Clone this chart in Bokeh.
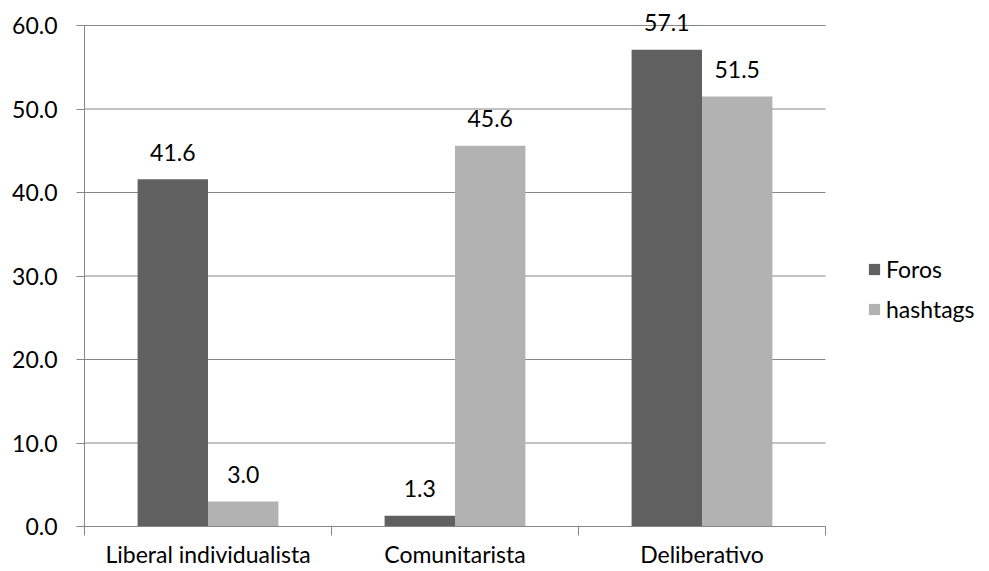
from bokeh.plotting import figure
from bokeh.models import Range1d, FixedTicker, ColumnDataSource, Legend, LegendItem
from bokeh.core.properties import value
from bokeh.embed import file_html
from bokeh.resources import INLINE

categories = ["Liberal individualista", "Comunitarista", "Deliberativo"]
foros = [41.6, 1.3, 57.1]
hashtags = [3.0, 45.6, 51.5]
series_names = ["Foros", "hashtags"]
y_ticks = [0, 10, 20, 30, 40, 50, 60]

FONT = "Lato"
FS = "23px"
GRID = "#868686"
C_DARK = "#606060"
C_LIGHT = "#b2b2b2"

W, H = 985, 571
LEFT, BOTTOM = 84, 45
PLOT_RIGHT = 825   # pixel where the category area ends
PLOT_TOP = 25      # pixel of the top tick
n = len(categories)
ytop = y_ticks[-1]
xmax = n * (W - LEFT) / (PLOT_RIGHT - LEFT)
ymax = ytop * (H - BOTTOM) / (H - BOTTOM - PLOT_TOP)

p = figure(width=W, height=H, output_backend="svg", toolbar_location=None,
           x_range=Range1d(0, xmax), y_range=Range1d(0, ymax),
           min_border_left=LEFT, min_border_right=0, min_border_top=0, min_border_bottom=BOTTOM)
p.outline_line_color = None
p.background_fill_color = "white"

# horizontal gridlines limited to the category area
p.segment(x0=[0] * (len(y_ticks) - 1), x1=[n] * (len(y_ticks) - 1),
          y0=y_ticks[1:], y1=y_ticks[1:], line_color=GRID, line_width=1)

w = 0.285
idx = list(range(n))
src = ColumnDataSource(dict(
    xf=[i + 0.5 - w / 2 for i in idx], xh=[i + 0.5 + w / 2 for i in idx],
    foros=foros, hashtags=hashtags,
    lf=[f"{v:.1f}" for v in foros], lh=[f"{v:.1f}" for v in hashtags]))

r1 = p.vbar(x="xf", top="foros", width=w, source=src, fill_color=C_DARK, line_color=None)
r2 = p.vbar(x="xh", top="hashtags", width=w, source=src, fill_color=C_LIGHT, line_color=None)

for xc, yc, lc in (("xf", "foros", "lf"), ("xh", "hashtags", "lh")):
    p.text(x=xc, y=yc, text=lc, source=src, text_align="center", text_baseline="alphabetic",
           y_offset=-27, text_font=value(FONT), text_font_size=FS, text_color="black")

# y axis
p.yaxis.bounds = (0, ytop)
p.yaxis.ticker = FixedTicker(ticks=y_ticks)
p.yaxis.major_label_overrides = {t: f"{t:.1f}" for t in y_ticks}
p.yaxis.axis_line_color = GRID
p.yaxis.major_tick_line_color = GRID
p.yaxis.major_tick_out = 8
p.yaxis.major_tick_in = 0
p.yaxis.minor_tick_line_color = None
p.yaxis.major_label_standoff = 19
p.yaxis.major_label_text_font = FONT
p.yaxis.major_label_text_font_size = FS
p.yaxis.major_label_text_color = "black"

# x axis
p.xaxis.bounds = (0, n)
p.xaxis.ticker = FixedTicker(ticks=[i + 0.5 for i in idx], minor_ticks=list(range(n + 1)))
p.xaxis.major_label_overrides = {i + 0.5: c for i, c in zip(idx, categories)}
p.xaxis.axis_line_color = GRID
p.xaxis.major_tick_line_color = None
p.xaxis.major_tick_out = 0
p.xaxis.major_tick_in = 0
p.xaxis.minor_tick_line_color = GRID
p.xaxis.minor_tick_out = 9
p.xaxis.minor_tick_in = 0
p.xaxis.major_label_standoff = 4
p.xaxis.major_label_text_font = FONT
p.xaxis.major_label_text_font_size = FS
p.xaxis.major_label_text_color = "black"

p.xgrid.grid_line_color = None
p.ygrid.grid_line_color = None

legend = Legend(items=[LegendItem(label=series_names[0], renderers=[r1]),
                       LegendItem(label=series_names[1], renderers=[r2])],
                location=(783, 203), orientation="vertical",
                glyph_width=14, glyph_height=14, label_height=20, spacing=12,
                label_standoff=5, padding=0, margin=0,
                border_line_color=None, background_fill_alpha=0,
                label_text_font=FONT, label_text_font_size=FS, label_text_color="black")
p.add_layout(legend, "center")

open("out.html", "w").write(file_html(p, INLINE))
